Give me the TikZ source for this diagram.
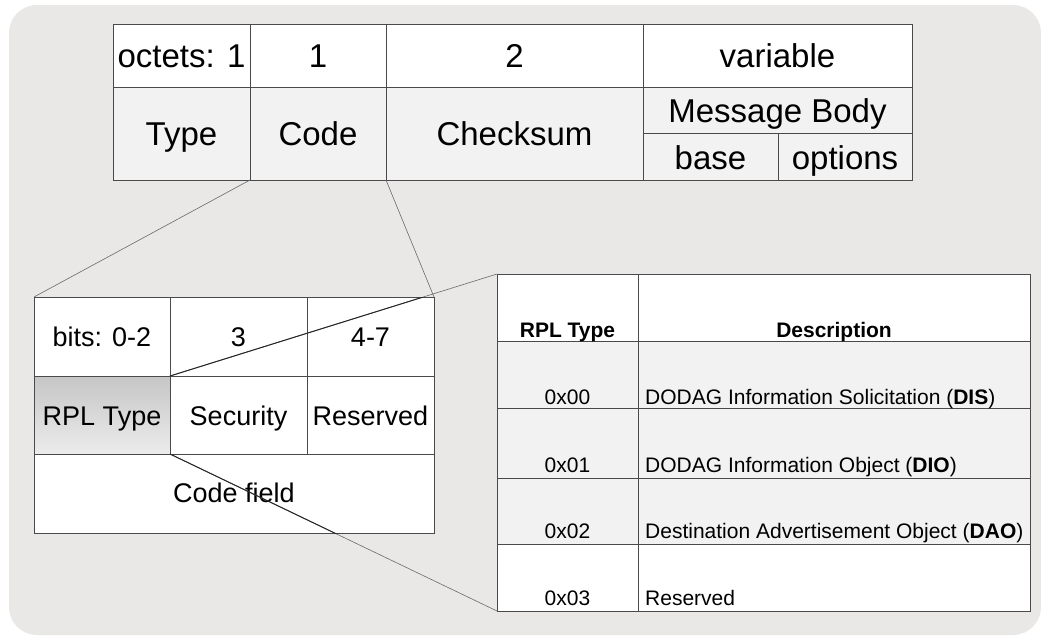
\documentclass[tikz,border=0pt]{standalone}
\usepackage{fontspec}
\setmainfont{Liberation Sans}
\usepackage{xcolor}

\definecolor{bggray}{HTML}{E9E8E7}
\definecolor{cellgray}{HTML}{F2F2F2}
\definecolor{rulegray}{HTML}{4A4A4A}
\definecolor{lensgray}{HTML}{6A6A6A}

\tikzset{
	grid/.style={draw=rulegray, line width=1pt},
	lens/.style={draw=lensgray, line width=0.6pt},
	big/.style={font=\fontsize{33}{36}\selectfont, anchor=base, inner sep=0pt},
	mid/.style={font=\fontsize{27}{30}\selectfont, anchor=base, inner sep=0pt},
	small/.style={font=\fontsize{21}{24}\selectfont, anchor=base, inner sep=0pt}
}

\begin{document}
\begin{tikzpicture}[x=1pt, y=-1pt]
	\useasboundingbox (0,0) rectangle (1041,637);
	\fill[white] (0,0) rectangle (1041,637);
	\fill[bggray, rounded corners=28pt] (9,5) rectangle (1041,635);
	
	% ICMPv6 header
	\fill[white] (113,24) rectangle (912,87);
	\fill[cellgray] (113,87) rectangle (912,180);
	\draw[grid] (113,24) rectangle (912,180);
	\draw[grid] (113,87) -- (912,87);
	\draw[grid] (643,133) -- (912,133);
	\foreach \x in {250, 386, 643} {
		\draw[grid] (\x,24) -- (\x,180);
	}
	\draw[grid] (778,133) -- (778,180);
	
	\node[big] (octets) at (181.5,67) {octets: 1};
	\node[big] (oct1) at (318,67) {1};
	\node[big] (oct2) at (514.5,67) {2};
	\node[big] (octv) at (777.5,67) {variable};
	\node[big] (type) at (181.5,145) {Type};
	\node[big] (code) at (318,145) {Code};
	\node[big] (csum) at (514.5,145) {Checksum};
	\node[big] (body) at (777.5,122) {Message Body};
	\node[big] (base) at (710.5,169) {base};
	\node[big] (opts) at (845,169) {options};
	
	\coordinate (codeBL) at (250,180);
	\coordinate (codeBR) at (386,180);
	
	% code field
	\fill[white] (34,297) rectangle (434,533);
	\shade[top color=gray!45, bottom color=gray!15] (34,376) rectangle (170,454);
	\draw[grid] (34,297) rectangle (434,533);
	\draw[grid] (34,376) -- (434,376);
	\draw[grid] (34,454) -- (434,454);
	\foreach \x in {170, 307} {
		\draw[grid] (\x,297) -- (\x,454);
	}
	
	\node[mid] (bits) at (102,346.5) {bits: 0-2};
	\node[mid] (bit3) at (238.5,346.5) {3};
	\node[mid] (bit47) at (370.5,346.5) {4-7};
	\node[mid] (rpl) at (102,425) {RPL Type};
	\node[mid] (sec) at (238.5,425) {Security};
	\node[mid] (res) at (370.5,425) {Reserved};
	\node[mid] (cfield) at (234,502) {Code field};
	
	\coordinate (cfTL) at (34,297);
	\coordinate (cfTR) at (434,297);
	\coordinate (rplTR) at (170,376);
	\coordinate (rplBR) at (170,454);
	
	% RPL types
	\fill[white] (497,274) rectangle (1030,611);
	\fill[cellgray] (497,341) rectangle (1030,544);
	\foreach \y in {341, 408, 478, 544} {
		\draw[grid] (497,\y) -- (1030,\y);
	}
	\draw[grid] (497,274) rectangle (1030,611);
	\draw[grid] (638,274) -- (638,611);
	
	\node[small] (hrpl) at (567.5,337) {\bfseries RPL Type};
	\node[small] (hdesc) at (834,337) {\bfseries Description};
	\node[small] (t0) at (567.5,404) {0x00};
	\node[small] (t1) at (567.5,472) {0x01};
	\node[small] (t2) at (567.5,538) {0x02};
	\node[small] (t3) at (567.5,605) {0x03};
	\node[small, anchor=base west] (d0) at (645,404) {DODAG Information Solicitation (\textbf{DIS})};
	\node[small, anchor=base west] (d1) at (645,472) {DODAG Information Object (\textbf{DIO})};
	\node[small, anchor=base west] (d2) at (645,538) {Destination Advertisement Object (\textbf{DAO})};
	\node[small, anchor=base west] (d3) at (645,605) {Reserved};
	
	\coordinate (tabTL) at (497,274);
	\coordinate (tabBL) at (497,611);
	
	% zoom lines
	\draw[lens] (codeBL) -- (cfTL);
	\draw[lens] (codeBR) -- (cfTR);
	\draw[lens] (rplTR) -- (tabTL);
	\draw[lens] (rplBR) -- (tabBL);
	\begin{scope}
		\clip (34,297) rectangle (434,533);
		\draw[grid, draw=black!85] (rplTR) -- (tabTL);
		\draw[grid, draw=black!85] (rplBR) -- (tabBL);
	\end{scope}
\end{tikzpicture}
\end{document}
